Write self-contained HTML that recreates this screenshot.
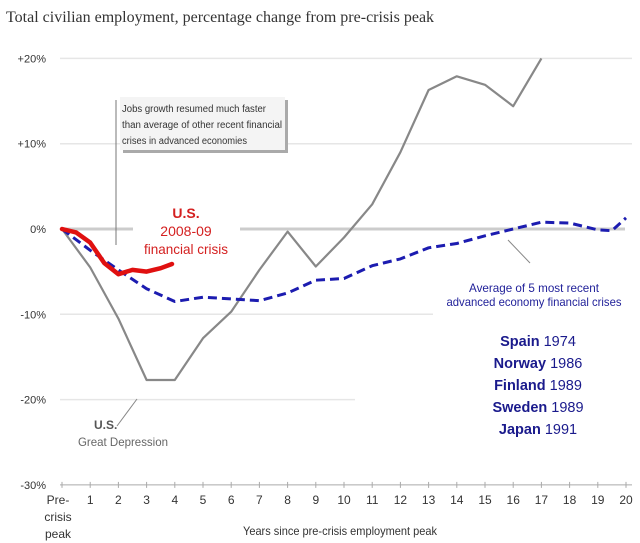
<!DOCTYPE html>
<html><head><meta charset="utf-8"><style>
body{margin:0;background:#fff}
svg{display:block;font-family:"Liberation Sans",sans-serif}
</style></head><body>
<svg width="640" height="543" viewBox="0 0 640 543">
<text x="6" y="22" font-family="Liberation Serif" font-size="16" fill="#333">Total civilian employment, percentage change from pre-crisis peak</text>
<g id="grid"></g>
<g id="yticks"></g>
<g id="xaxis"></g>
<g id="series"></g>
<g>
<line x1="116" y1="100" x2="116" y2="245" stroke="#777" stroke-width="1"/>
<rect x="123" y="100" width="165" height="53" fill="#aaa"/>
<rect x="120" y="97" width="165" height="53" fill="#f4f4f4"/>
<text font-size="10" fill="#333"><tspan x="122" y="112" textLength="144" lengthAdjust="spacingAndGlyphs">Jobs growth resumed much faster</tspan><tspan x="122" y="128" textLength="160" lengthAdjust="spacingAndGlyphs">than average of other recent financial</tspan><tspan x="122" y="144" textLength="125" lengthAdjust="spacingAndGlyphs">crises in advanced economies</tspan></text>
</g>
<g text-anchor="middle" fill="#d42020">
<text x="186" y="218" font-size="14" font-weight="bold">U.S.</text>
<text x="186" y="236" font-size="14">2008-09</text>
<text x="186" y="254" font-size="14" textLength="84" lengthAdjust="spacingAndGlyphs">financial crisis</text>
</g>
<g text-anchor="middle" fill="#22229a">
<line x1="508" y1="240" x2="530" y2="263" stroke="#888"/>
<text x="534" y="292" font-size="12" textLength="130" lengthAdjust="spacingAndGlyphs">Average of 5 most recent</text>
<text x="534" y="306" font-size="12" textLength="175" lengthAdjust="spacingAndGlyphs">advanced economy financial crises</text>
<g font-size="14.5" fill="#1a1a8c">
<text x="538" y="346"><tspan font-weight="bold">Spain</tspan> 1974</text>
<text x="538" y="368"><tspan font-weight="bold">Norway</tspan> 1986</text>
<text x="538" y="390"><tspan font-weight="bold">Finland</tspan> 1989</text>
<text x="538" y="412"><tspan font-weight="bold">Sweden</tspan> 1989</text>
<text x="538" y="434"><tspan font-weight="bold">Japan</tspan> 1991</text>
</g></g>
<line x1="117" y1="426" x2="137" y2="399" stroke="#888"/>
<text x="94" y="429" font-size="12" font-weight="bold" fill="#555">U.S.</text>
<text x="78" y="446" font-size="12" fill="#666" textLength="90" lengthAdjust="spacingAndGlyphs">Great Depression</text>
<text x="340" y="535" font-size="12" fill="#333" text-anchor="middle" textLength="194" lengthAdjust="spacingAndGlyphs">Years since pre-crisis employment peak</text>
</svg>
<script>
const yTicks=[20,10,0,-10,-20,-30];
const yLabels=["+20%","+10%","0%","-10%","-20%","-30%"];
const xTicks=[1,2,3,4,5,6,7,8,9,10,11,12,13,14,15,16,17,18,19,20];
const depYears=[0,1,2,3,4,5,6,7,8,9,10,11,12,13,14,15,16,17];
const depVals=[0,-4.5,-10.5,-17.7,-17.7,-12.8,-9.7,-4.8,-0.3,-4.4,-1,2.9,9,16.3,17.9,16.9,14.4,20];
const avgYears=[0,1,2,3,4,5,6,7,8,9,10,11,12,13,14,15,16,17,18,19,19.5,20];
const avgVals=[0,-2.5,-4.8,-7,-8.5,-8,-8.2,-8.4,-7.5,-6,-5.8,-4.3,-3.5,-2.2,-1.7,-0.8,0,0.8,0.7,-0.1,-0.2,1.3];
const usYears=[0,0.5,1,1.5,2,2.5,3,3.5,3.9];
const usVals=[0,-0.4,-1.6,-4,-5.3,-4.8,-5,-4.6,-4.1];
const NS="http://www.w3.org/2000/svg";
const X=v=>62+v*28.2, Y=v=>229-v*8.53;
function mk(t,a,p){const e=document.createElementNS(NS,t);for(const k in a)e.setAttribute(k,a[k]);p.appendChild(e);return e;}
const grid=document.getElementById('grid'),yt=document.getElementById('yticks'),xa=document.getElementById('xaxis'),se=document.getElementById('series');
yTicks.forEach((v,i)=>{
 if(v!==-30){
  let x2=v>=10?632:(v===0?625:(v===-10?433:355));
  if(v===0){
   let l=mk('line',{x1:62,y1:Y(v),x2:133,y2:Y(v),stroke:'#ccc','stroke-width':3},grid);
   
   
   let l2=mk('line',{x1:240,y1:Y(v),x2:x2,y2:Y(v),stroke:'#ccc','stroke-width':3},grid);
   
   
  } else {
   let l=mk('line',{x1:60,y1:Y(v),x2:x2,y2:Y(v),stroke:'#e6e6e6','stroke-width':1.5},grid);
   
   
  }
 }
 let t=mk('text',{x:46,y:Y(v)+4,'font-size':11,fill:'#333','text-anchor':'end'},yt);
 t.textContent=yLabels[i];
 
 
});
let ax=mk('line',{x1:60,y1:Y(-30),x2:632,y2:Y(-30),stroke:'#aaa'},xa);


[0].concat(xTicks).forEach(v=>{mk('line',{x1:X(v),y1:Y(-30)-3,x2:X(v),y2:Y(-30)+3,stroke:'#aaa'},xa);});
xTicks.forEach(v=>{
 let t=mk('text',{x:X(v),y:504,'font-size':12,fill:'#333','text-anchor':'middle'},xa);
 t.textContent=String(v);
 
 
});
["Pre-","crisis","peak"].forEach((s,i)=>{let t=mk('text',{x:58,y:504+i*17,'font-size':12,fill:'#333','text-anchor':'middle'},xa);t.textContent=s;
 
 });
function pts(xs,ys){return xs.map((x,i)=>X(x).toFixed(1)+','+Y(ys[i]).toFixed(1)).join(' ');}
let d=mk('polyline',{points:pts(depYears,depVals),fill:'none',stroke:'#888','stroke-width':2.2,'stroke-linejoin':'round'},se);


let a=mk('polyline',{points:pts(avgYears,avgVals),fill:'none',stroke:'#1c1cb0','stroke-width':3,'stroke-dasharray':'9,5','stroke-linejoin':'round'},se);


let u=mk('polyline',{points:pts(usYears,usVals),fill:'none',stroke:'#e01010','stroke-width':4.5,'stroke-linejoin':'round','stroke-linecap':'round'},se);


</script>
</body></html>
